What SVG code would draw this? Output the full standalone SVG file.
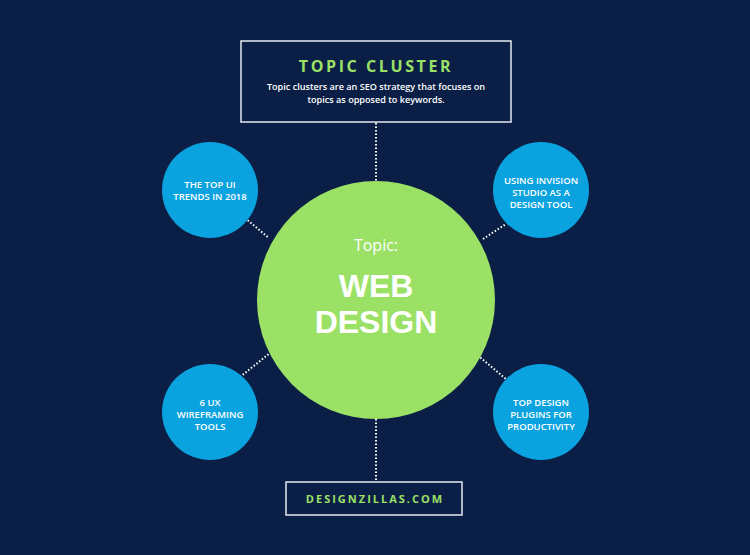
<svg xmlns="http://www.w3.org/2000/svg" width="750" height="555" viewBox="0 0 750 555">
<style>
.bg{fill:#0b1f46}
.box{fill:#0b1f46;stroke:#e6e9f0;stroke-width:1.5}
.green{fill:#9be166;font-family:"Open Sans","Liberation Sans",sans-serif;font-weight:bold;text-anchor:middle}
.desc{fill:#ffffff;font-family:"Open Sans","Liberation Sans",sans-serif;font-size:9.1px;font-weight:600;text-anchor:middle}
.sat{fill:#0aa3df}
.sattxt{fill:#ffffff;font-family:"Open Sans","Liberation Sans",sans-serif;font-size:9.5px;font-weight:600;text-anchor:middle}
.conn{stroke:#ffffff;stroke-width:2;stroke-dasharray:1.5 2;fill:none}
.hub{fill:#9be166}
.hubtxt{fill:#ffffff;font-family:"Open Sans","Liberation Sans",sans-serif;text-anchor:middle}
.hubbig{fill:#ffffff;font-family:"Liberation Sans",Arial,sans-serif;font-weight:bold;font-size:32px;text-anchor:middle}
</style>
<rect class="bg" x="0" y="0" width="750" height="555"/>
<g id="connectors">
<line class="conn" x1="376" y1="123" x2="376" y2="181"/>
<line class="conn" x1="376" y1="419" x2="376" y2="482"/>
<line class="conn" x1="245" y1="218" x2="269" y2="238"/>
<line class="conn" x1="483" y1="239" x2="506" y2="224"/>
<line class="conn" x1="240" y1="377" x2="270" y2="353"/>
<line class="conn" x1="475" y1="353" x2="507" y2="380"/>
</g>
<g id="topic-cluster">
<rect class="box" x="241" y="41" width="270" height="81"/>
<text class="green" x="376" y="72" font-size="16" letter-spacing="2.6">TOPIC CLUSTER</text>
<text class="desc" x="376" y="90">Topic clusters are an SEO strategy that focuses on</text>
<text class="desc" x="376" y="103">topics as opposed to keywords.</text>
</g>
<g id="hub">
<circle class="hub" cx="376" cy="300" r="119"/>
<text class="hubtxt" x="376" y="251" font-size="16">Topic:</text>
<text class="hubbig" x="376" y="297">WEB</text>
<text class="hubbig" x="376" y="333">DESIGN</text>
</g>
<g id="top-ui-trends">
<circle class="sat" cx="210" cy="190" r="48"/>
<text class="sattxt" x="210" y="188">THE TOP UI</text>
<text class="sattxt" x="210" y="200">TRENDS IN 2018</text>
</g>
<g id="invision-studio">
<circle class="sat" cx="541" cy="190" r="48"/>
<text class="sattxt" x="541" y="184">USING INVISION</text>
<text class="sattxt" x="541" y="196">STUDIO AS A</text>
<text class="sattxt" x="541" y="208">DESIGN TOOL</text>
</g>
<g id="ux-wireframing">
<circle class="sat" cx="210" cy="412" r="48"/>
<text class="sattxt" x="210" y="406">6 UX</text>
<text class="sattxt" x="210" y="418">WIREFRAMING</text>
<text class="sattxt" x="210" y="430">TOOLS</text>
</g>
<g id="design-plugins">
<circle class="sat" cx="541" cy="412" r="48"/>
<text class="sattxt" x="541" y="406">TOP DESIGN</text>
<text class="sattxt" x="541" y="418">PLUGINS FOR</text>
<text class="sattxt" x="541" y="430">PRODUCTIVITY</text>
</g>
<g id="designzillas">
<rect class="box" x="286" y="482" width="176" height="33"/>
<text class="green" x="375" y="503" font-size="11" letter-spacing="2">DESIGNZILLAS.COM</text>
</g>
</svg>
